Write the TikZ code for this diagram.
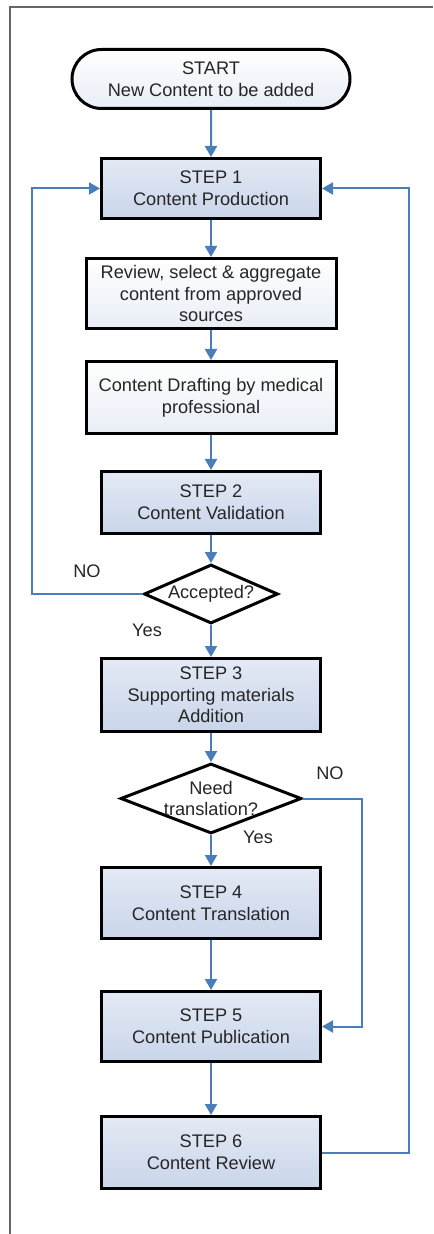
\documentclass[tikz,border=0pt]{standalone}
\usepackage{fontspec}
\setmainfont{Liberation Sans}
\usetikzlibrary{positioning,shapes.geometric,shapes.misc,arrows.meta}

\definecolor{flowblue}{HTML}{4A7EBB}
\definecolor{steptop}{HTML}{E4EAF5}
\definecolor{stepbot}{HTML}{C9D5EA}
\definecolor{proctop}{HTML}{FFFFFF}
\definecolor{procbot}{HTML}{E8EDF6}
\definecolor{framegray}{HTML}{666666}

\begin{document}
\begin{tikzpicture}[
    x=0.5pt, y=-0.5pt,
    % Boxes
    every node/.style={font=\fontsize{9.1}{10.8}\selectfont, text=black!85},
    base/.style={draw=black, line width=1.5pt, align=center, inner sep=1pt},
    terminal/.style={base, rounded rectangle, top color=white, bottom color=procbot,
                minimum width=141pt, minimum height=29.5pt},
    stepbox/.style={base, rectangle, top color=steptop, bottom color=stepbot,
                minimum width=109.5pt},
    procbox/.style={base, rectangle, top color=proctop, bottom color=procbot,
                minimum width=125pt},
    decide/.style={base, diamond, fill=white, inner sep=0pt},
    tag/.style={inner sep=0pt, align=center},
    % Arrows
    flow/.style={-{Triangle[width=6pt,length=5.5pt]}, line width=1pt, flowblue},
    frame/.style={draw=framegray, line width=0.7pt}
]

% Page margins and outer frame
\useasboundingbox (0,0) rectangle (433,1234);
\draw[frame] (10,1234) -- (10,7) -- (433,7);

% Main column
\node[terminal] (start) at (211,79) {START\\New Content to be added};
\node[stepbox, minimum height=30pt, below=23.5pt of start] (step1) {STEP 1\\Content Production};
\node[procbox, minimum height=35pt, below=18.5pt of step1] (review) {Review, select \& aggregate\\content from approved\\sources};
\node[procbox, minimum height=36pt, below=15pt of review] (draft) {Content Drafting by medical\\professional};
\node[stepbox, minimum height=31pt, below=17.5pt of draft] (step2) {STEP 2\\Content Validation};

% First decision
\node[decide, minimum width=67pt, minimum height=29.5pt, below=14pt of step2] (accept) {};
\node[tag] (accepttxt) at (accept) {Accepted?};

\node[stepbox, minimum height=36.5pt, below=16pt of accept] (step3) {STEP 3\\Supporting materials\\Addition};

% Second decision
\node[decide, minimum width=90.5pt, minimum height=35pt, below=14.5pt of step3] (need) {};
\node[tag] (needtxt) at (need) {Need\\translation?};

\node[stepbox, minimum height=35.5pt, below=15.5pt of need] (step4) {STEP 4\\Content Translation};
\node[stepbox, minimum height=35pt, below=25pt of step4] (step5) {STEP 5\\Content Publication};
\node[stepbox, minimum height=36pt, below=26pt of step5] (step6) {STEP 6\\Content Review};

% Branch labels
\node[tag] (no1) at (87,571) {NO};
\node[tag] (yes1) at (147,630) {Yes};
\node[tag] (no2) at (330,773) {NO};
\node[tag] (yes2) at (258,837) {Yes};

% Loop columns
\coordinate (lft) at (32,0);
\coordinate (rgt) at (409,0);
\coordinate (skip) at (362,0);

% Main flow arrows
\draw[flow] (start) -- (step1);
\draw[flow] (step1) -- (review);
\draw[flow] (review) -- (draft);
\draw[flow] (draft) -- (step2);
\draw[flow] (step2) -- (accept);
\draw[flow] (accept) -- (step3);
\draw[flow] (step3) -- (need);
\draw[flow] (need) -- (step4);
\draw[flow] (step4) -- (step5);
\draw[flow] (step5) -- (step6);

% Feedback and bypass lines
\draw[flow] (accept.west) -| (lft |- step1.west) -- (step1.west);
\draw[flow] (need.east) -| (skip |- step5.east) -- (step5.east);
\draw[flow] (step6.east) -| (rgt |- step1.east) -- (step1.east);

\end{tikzpicture}
\end{document}
